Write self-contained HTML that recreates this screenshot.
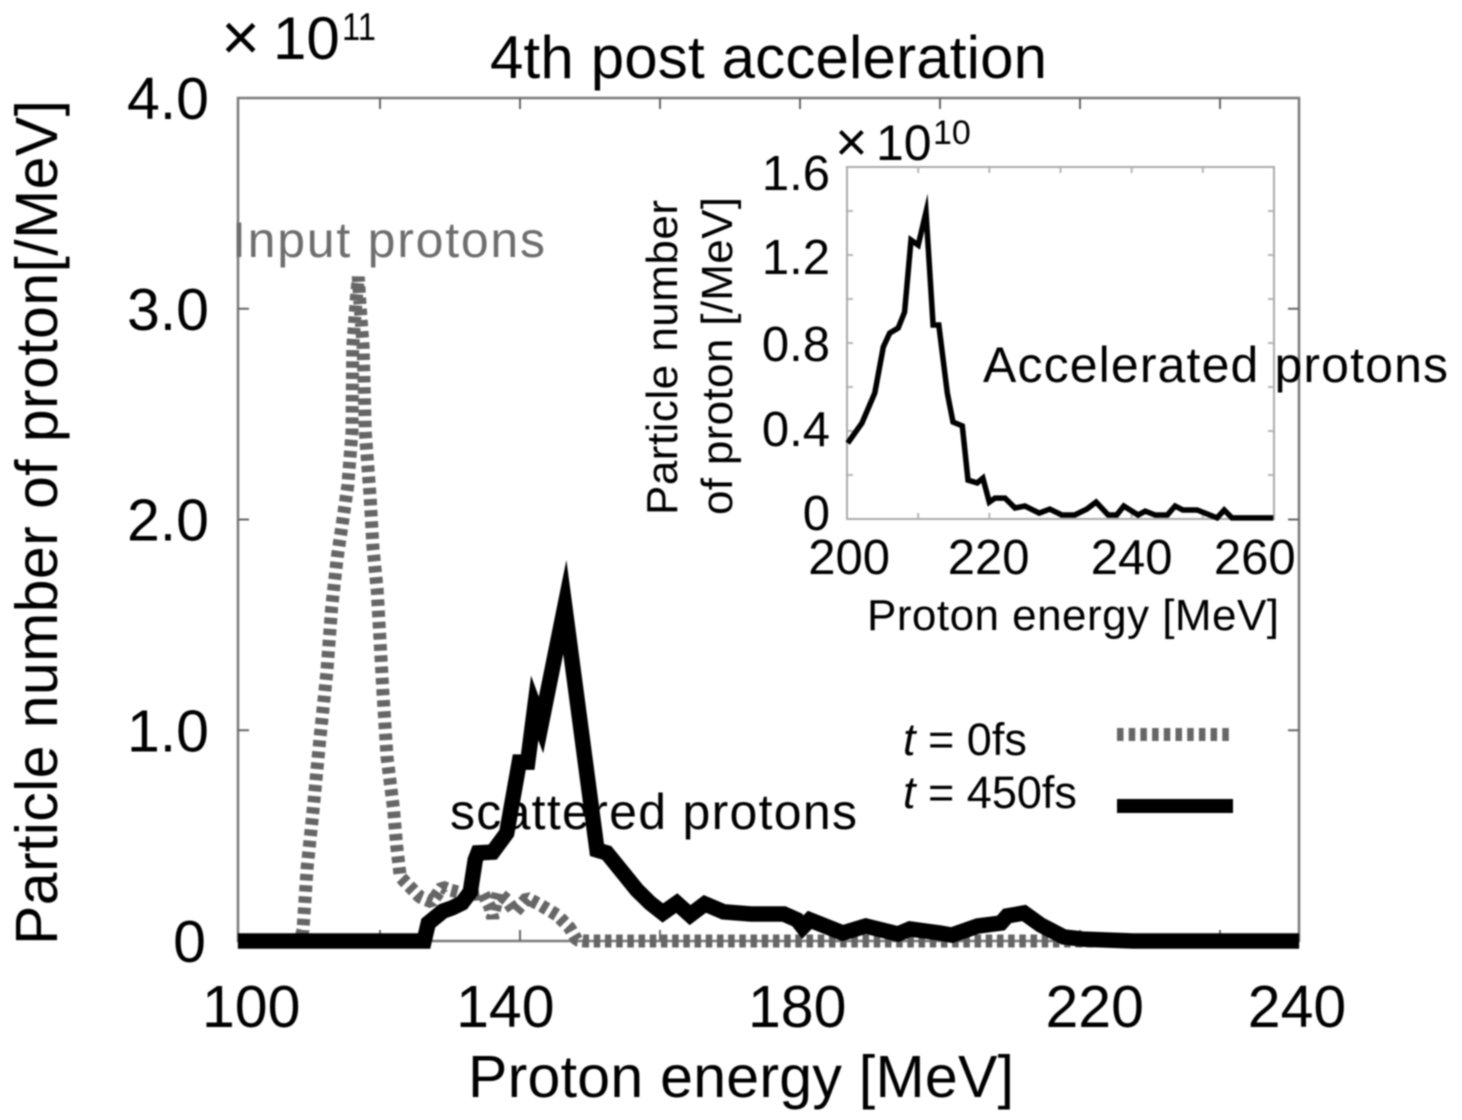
<!DOCTYPE html>
<html lang="en">
<head>
<meta charset="utf-8">
<title>4th post acceleration</title>
<style>
html,body{margin:0;padding:0;background:#fff;}
#chart{display:block;width:1462px;height:1120px;filter:blur(0.9px);font-family:"Liberation Sans",sans-serif;fill:#000;}
.tick-main{font-size:59px;}
.tick-inset{font-size:49px;}
.note{font-size:50px;}
</style>
</head>
<body>
<svg id="chart" xmlns="http://www.w3.org/2000/svg" width="1462" height="1120" viewBox="0 0 1462 1120">
  <rect x="238" y="98" width="1061" height="843" fill="none" stroke="#7a7a7a" stroke-width="2.5"/>
  <rect x="847" y="167" width="427" height="352" fill="none" stroke="#aaa" stroke-width="2"/>
  <g id="main-ticks"></g>
  <g id="inset-ticks"></g>
  <g id="main-series"></g>
  <g id="inset-series"></g>
  <g id="main-labels" class="tick-main"></g>
  <g id="inset-labels" class="tick-inset"></g>

  <text x="490" y="78" font-size="60" textLength="557">4th post acceleration</text>
  <text x="221" y="60" font-size="67">×</text>
  <text x="273" y="59" font-size="60">10</text>
  <text x="342" y="40" font-size="39" textLength="34" lengthAdjust="spacingAndGlyphs">11</text>
  <text transform="translate(57 945) rotate(-90)" font-size="59" textLength="845">Particle number of proton[/MeV]</text>
  <text x="468" y="1097" font-size="59" textLength="546">Proton energy [MeV]</text>

  <text x="835" y="161" font-size="56">×</text>
  <text x="876" y="160" font-size="50">10</text>
  <text x="933" y="144" font-size="34">10</text>
  <text transform="translate(677 515) rotate(-90)" font-size="44" textLength="315">Particle number</text>
  <text transform="translate(732 515) rotate(-90)" font-size="44" textLength="318">of proton [/MeV]</text>
  <text x="867" y="630" font-size="44" textLength="412">Proton energy [MeV]</text>

  <text class="note" x="232" y="257" style="fill:#6e6e6e" textLength="313">Input protons</text>
  <text class="note" x="450" y="829" textLength="407">scattered protons</text>
  <text class="note" x="983" y="382" textLength="465">Accelerated protons</text>

  <text x="903" y="755" font-size="45"><tspan font-style="italic">t</tspan> = 0fs</text>
  <text x="903" y="808" font-size="45"><tspan font-style="italic">t</tspan> = 450fs</text>
  <line x1="1117" y1="734.5" x2="1233" y2="734.5" stroke="#666" stroke-width="13" stroke-dasharray="6.5 5.2"/>
  <line x1="1117" y1="806" x2="1233" y2="806" stroke="#000" stroke-width="14"/>
</svg>
<script>
const mainXTickValues = [120, 140, 160, 180, 200, 220, 240];
const mainYTickValues = [1, 2, 3];
const mainXLabels = ['100', '140', '180', '220', '240'];
const mainXLabelAnchors = [101.6, 137.9, 179.6, 222.1, 251];
const mainYLabels = ['0', '1.0', '2.0', '3.0', '4.0'];
const mainYLabelValues = [0, 1, 2, 3, 4];

const inputEnergy = [99.7,108.6,109,109.6,110.4,111.4,112.4,113.1,113.9,114.7,115.4,116,116.1,116.6,116.9,117.1,117.6,117.9,118.6,119,119.6,120,120.4,121,121.9,122.4,122.9,124.3,125.7,127.4,128.9,130,132.9,134.7,135.7,136.1,136.9,138.1,139.3,141,142.9,145.3,147.1,148.1,149.3,251.3];
const inputCounts = [0,0,.052,.351,.607,.954,1.272,1.585,1.822,2.0,2.16,2.415,2.814,3.042,3.151,3.042,2.814,2.415,2.102,1.865,1.665,1.428,1.191,.873,.636,.446,.304,.256,.209,.185,.256,.242,.218,.228,.161,.109,.228,.195,.138,.204,.171,.123,.062,.005,0,0];

const finalEnergy = [99.7,126.3,126.9,129,130.3,131.7,132.9,133.6,134,136.1,138.1,139.9,141.1,142.1,143,146.4,151,152.4,156.7,158.6,160.4,162.4,164.3,166.4,169.1,173,177.7,179.6,180.4,181.4,186.1,189.4,194,195.7,200,201.7,205.4,208.7,209.6,212,214.4,217.7,220.4,227.6,251.3];
const finalCounts = [0,0,.085,.142,.157,.18,.233,.384,.418,.422,.512,.849,.849,1.106,1.025,1.585,.432,.418,.242,.18,.133,.18,.123,.176,.138,.128,.128,.1,.066,.1,.038,.071,.033,.057,.038,.028,.071,.085,.119,.133,.076,.019,.009,0,0];

const insetXTickValues = [210, 220, 230, 240, 250];
const insetYTickValues = [0.2, 0.4, 0.6, 0.8, 1.0, 1.2, 1.4];
const insetXLabels = ['200', '220', '240', '260'];
const insetXLabelAnchors = [200.3, 219.9, 240, 257.3];
const insetYLabels = ['0', '0.4', '0.8', '1.2', '1.6'];
const insetYLabelAnchors = [0.005, 0.386, 0.773, 1.168, 1.55];

const insetEnergy = [200.1,202.1,203.9,205.1,206,207.2,208.1,209,210,211.1,212.1,212.9,214.1,214.9,216.2,217,218.3,219.1,220,220.8,222.2,223.6,225,227,228.5,230.2,232,233.7,235,236.7,237.9,238.9,240.9,241.9,243.3,245,246.1,247.2,249.2,250.6,252,253,254.1,259.9];
const insetCounts = [.345,.436,.573,.782,.845,.868,.941,1.268,1.245,1.395,.882,.882,.573,.441,.423,.177,.164,.186,.077,.095,.095,.05,.059,.027,.045,.018,.018,.045,.077,.018,.018,.059,.018,.036,.018,.018,.059,.041,.041,.023,.005,.041,.005,.005];

const NS = 'http://www.w3.org/2000/svg';
function mainX(e) { return 240 + 7 * (e - 100); }
function mainY(v) { return 941 - 210.75 * v; }
function insetX(e) { return 847 + 427 * (e - 200) / 60; }
function insetY(v) { return 519 - 220 * v; }
function pathFrom(xs, ys, sx, sy) {
  return xs.map(function (x, i) { return (i ? 'L' : 'M') + sx(x).toFixed(1) + ' ' + sy(ys[i]).toFixed(1); }).join(' ');
}
function make(tag, parent, props) {
  const el = document.createElementNS(NS, tag);
  Object.keys(props).forEach(function (k) { el.setAttribute(k, props[k]); });
  parent.appendChild(el);
  return el;
}
function addTick(parent, x1, y1, x2, y2, color) {
  const t = make('line', parent, { x1: x1, y1: y1, x2: x2, y2: y2, stroke: color, 'stroke-width': 2 });
  
  
}

const mainTicks = document.getElementById('main-ticks');
mainXTickValues.forEach(function (e) {
  addTick(mainTicks, mainX(e), 941, mainX(e), 930, '#666');
  addTick(mainTicks, mainX(e), 98, mainX(e), 109, '#666');
});
mainYTickValues.forEach(function (v) {
  addTick(mainTicks, 238, mainY(v), 249, mainY(v), '#666');
  addTick(mainTicks, 1299, mainY(v), 1288, mainY(v), '#666');
});

const insetTicks = document.getElementById('inset-ticks');
insetXTickValues.forEach(function (e) {
  addTick(insetTicks, insetX(e), 519, insetX(e), 513, '#b5b5b5');
  addTick(insetTicks, insetX(e), 167, insetX(e), 173, '#b5b5b5');
});
insetYTickValues.forEach(function (v) {
  addTick(insetTicks, 847, insetY(v), 853, insetY(v), '#b5b5b5');
  addTick(insetTicks, 1274, insetY(v), 1268, insetY(v), '#b5b5b5');
});

const mainSeries = document.getElementById('main-series');
const inputLine = make('path', mainSeries, { d: pathFrom(inputEnergy, inputCounts, mainX, mainY), fill: 'none', stroke: '#666', 'stroke-width': 13, 'stroke-dasharray': '6.5 4.7', 'stroke-linejoin': 'bevel' });


const finalLine = make('path', mainSeries, { d: pathFrom(finalEnergy, finalCounts, mainX, mainY), fill: 'none', stroke: '#000', 'stroke-width': 15.5, 'stroke-linejoin': 'miter', 'stroke-miterlimit': 20 });



const insetSeries = document.getElementById('inset-series');
const insetLine = make('path', insetSeries, { d: pathFrom(insetEnergy, insetCounts, insetX, insetY), fill: 'none', stroke: '#000', 'stroke-width': 5.5, 'stroke-linejoin': 'miter', 'stroke-miterlimit': 10 });



const mainLabels = document.getElementById('main-labels');
mainXLabels.forEach(function (txt, i) {
  const t = make('text', mainLabels, { x: mainX(mainXLabelAnchors[i]), y: 1027, 'text-anchor': 'middle' });
  t.textContent = txt;
  
  
});
mainYLabels.forEach(function (txt, i) {
  const v = mainYLabelValues[i];
  const t = make('text', mainLabels, { x: v === 0 ? 206 : 209, y: mainY(v) + 21, 'text-anchor': 'end' });
  t.textContent = txt;
  
  
});

const insetLabels = document.getElementById('inset-labels');
insetXLabels.forEach(function (txt, i) {
  const t = make('text', insetLabels, { x: insetX(insetXLabelAnchors[i]), y: 574, 'text-anchor': 'middle' });
  t.textContent = txt;
  
  
});
insetYLabels.forEach(function (txt, i) {
  const t = make('text', insetLabels, { x: 830, y: insetY(insetYLabelAnchors[i]) + 12, 'text-anchor': 'end' });
  t.textContent = txt;
  
  
});
</script>
</body>
</html>
